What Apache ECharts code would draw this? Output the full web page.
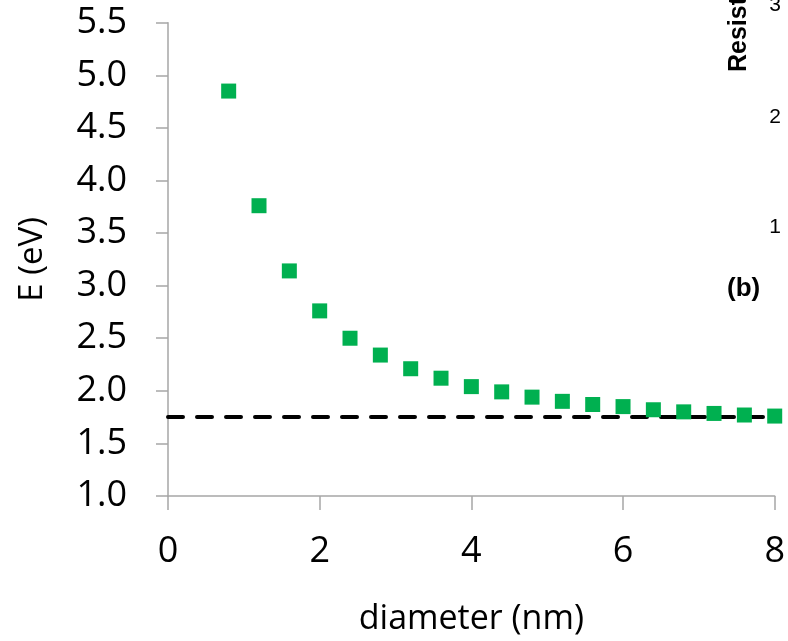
<!DOCTYPE html>
<html>
<head>
<meta charset="utf-8">
<script src="https://cdn.jsdelivr.net/npm/echarts@6/dist/echarts.min.js"></script>
<style>
html,body{margin:0;padding:0;background:#fff;}
#c{width:788px;height:641px;}
</style>
</head>
<body>
<div id="c"></div>
<script>
// Data
const diameters = [0.8, 1.2, 1.6, 2.0, 2.4, 2.8, 3.2, 3.6, 4.0, 4.4, 4.8, 5.2, 5.6, 6.0, 6.4, 6.8, 7.2, 7.6, 8.0];
const energies  = [4.85, 3.76, 3.14, 2.76, 2.50, 2.34, 2.21, 2.12, 2.04, 1.99, 1.94, 1.90, 1.87, 1.85, 1.82, 1.80, 1.785, 1.77, 1.76];
const bulkGap = 1.75;
const bulkRange = [0, 8];
const xTitle = 'diameter (nm)';
const yTitle = 'E (eV)';
const sideTicks = ['3', '2', '1'];
const sideTitle = 'Resist';
const panelLabel = '(b)';

const axisGray = '#a6a6a6';
const font = '"Open Sans", sans-serif';
const sideFont = 'Liberation Sans';

function sideText(text, x, y, size, weight, align, rotation) {
  return {
    type: 'text', x: x, y: y, rotation: rotation || 0,
    style: { text: text, fontSize: size, fontWeight: weight, fontFamily: sideFont,
      fill: '#000', align: align, verticalAlign: 'middle' }
  };
}

const chart = echarts.init(document.getElementById('c'));
chart.setOption({
  animation: false,
  backgroundColor: '#fff',
  grid: { left: 168, right: 12, top: 22.7, bottom: 140 },
  xAxis: {
    type: 'value', min: 0, max: 8, interval: 2,
    axisLine: { show: true, onZero: false, lineStyle: { color: axisGray, width: 1.5 } },
    axisTick: { show: true, length: 14, lineStyle: { color: axisGray, width: 1.5 } },
    splitLine: { show: false },
    axisLabel: { margin: 38, fontSize: 36, color: '#000', fontFamily: font },
    name: xTitle, nameLocation: 'middle', nameGap: 106,
    nameTextStyle: { fontSize: 34, color: '#000', fontFamily: font }
  },
  yAxis: {
    type: 'value', min: 1.0, max: 5.5, interval: 0.5,
    axisLine: { show: true, onZero: false, lineStyle: { color: axisGray, width: 1.5 } },
    axisTick: { show: true, length: 12, lineStyle: { color: axisGray, width: 1.5 } },
    splitLine: { show: false },
    axisLabel: { margin: 41, fontSize: 36, color: '#000', fontFamily: font,
      formatter: v => v.toFixed(1) },
    name: yTitle, nameLocation: 'middle', nameGap: 119,
    nameTextStyle: { fontSize: 33, color: '#000', fontFamily: font }
  },
  series: [
    {
      type: 'line',
      data: bulkRange.map(x => [x, bulkGap]),
      symbol: 'none',
      lineStyle: { color: '#000', width: 4, type: [15, 14], cap: 'round' },
      z: 1
    },
    {
      type: 'scatter',
      data: diameters.map((d, i) => [d, energies[i]]),
      symbol: 'rect',
      symbolSize: 15,
      itemStyle: { color: '#00b050', opacity: 1 },
      z: 2
    }
  ],
  graphic: [
    sideText(sideTitle, 739, 72, 25, 'bold', 'left', Math.PI / 2),
    sideText(sideTicks[0], 781, 5, 21, 'normal', 'right'),
    sideText(sideTicks[1], 781, 117, 21, 'normal', 'right'),
    sideText(sideTicks[2], 781, 227, 21, 'normal', 'right'),
    sideText(panelLabel, 727, 289, 26, 'bold', 'left')
  ]
});
</script>
</body>
</html>
